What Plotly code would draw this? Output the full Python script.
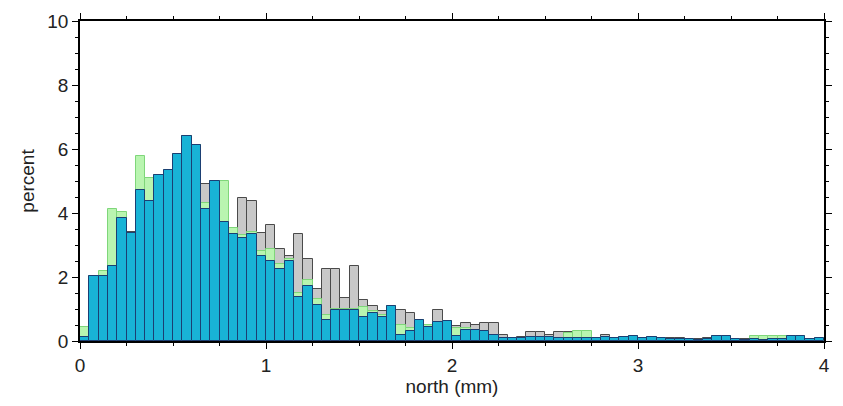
import numpy as np
import plotly.graph_objects as go

# Histogram bins: 80 bins of 0.05 mm spanning 0..4 mm
bin_width = 0.05
bin_centers = [round(bin_width * (i + 0.5), 3) for i in range(80)]

# Percent of samples per bin for three solutions
gray_pct = [
    0.30, 2.00, 2.10, 3.90, 3.90, 3.40, 4.80, 4.50, 5.20, 5.30,
    5.80, 6.40, 6.14, 4.90, 4.99, 4.40, 3.52, 4.47, 4.38, 3.36,
    3.64, 2.87, 2.65, 3.33, 2.56, 1.64, 2.25, 2.25, 1.33, 2.35,
    1.27, 1.08, 0.93, 1.08, 0.96, 0.86, 0.65, 0.43, 0.96, 0.62,
    0.46, 0.55, 0.50, 0.55, 0.55, 0.18, 0.10, 0.12, 0.27, 0.27,
    0.20, 0.27, 0.27, 0.27, 0.10, 0.10, 0.20, 0.10, 0.10, 0.15,
    0.05, 0.12, 0.10, 0.10, 0.10, 0.05, 0.05, 0.08, 0.10, 0.10,
    0.05, 0.05, 0.05, 0.05, 0.05, 0.05, 0.10, 0.10, 0.05, 0.05,
]
green_pct = [
    0.43, 2.04, 2.20, 4.14, 4.04, 3.37, 5.77, 5.09, 5.20, 5.33,
    5.85, 6.40, 6.14, 4.30, 4.99, 4.99, 3.52, 3.30, 3.40, 2.80,
    2.87, 2.40, 2.55, 1.50, 1.90, 1.30, 0.80, 1.00, 1.00, 1.00,
    1.05, 0.95, 0.80, 1.08, 0.49, 0.40, 0.65, 0.50, 0.60, 0.62,
    0.40, 0.40, 0.35, 0.30, 0.20, 0.10, 0.10, 0.10, 0.12, 0.12,
    0.12, 0.10, 0.25, 0.30, 0.30, 0.10, 0.12, 0.08, 0.12, 0.15,
    0.08, 0.12, 0.10, 0.05, 0.05, 0.05, 0.03, 0.05, 0.15, 0.15,
    0.05, 0.03, 0.15, 0.15, 0.15, 0.15, 0.15, 0.15, 0.05, 0.10,
]
cyan_pct = [
    0.12, 2.04, 2.04, 2.35, 3.83, 3.37, 4.72, 4.38, 5.20, 5.33,
    5.85, 6.40, 6.14, 4.14, 4.99, 3.73, 3.33, 3.22, 3.33, 2.65,
    2.50, 2.25, 2.50, 1.36, 1.73, 1.11, 0.65, 0.96, 0.96, 0.96,
    0.75, 0.86, 0.74, 1.08, 0.19, 0.31, 0.65, 0.43, 0.60, 0.62,
    0.15, 0.34, 0.35, 0.30, 0.20, 0.10, 0.10, 0.10, 0.12, 0.12,
    0.12, 0.10, 0.10, 0.10, 0.08, 0.10, 0.12, 0.08, 0.12, 0.15,
    0.08, 0.12, 0.10, 0.05, 0.05, 0.05, 0.03, 0.05, 0.15, 0.15,
    0.05, 0.03, 0.05, 0.03, 0.05, 0.05, 0.15, 0.15, 0.05, 0.10,
]

x_tick_vals = [0, 1, 2, 3, 4]
y_tick_vals = [0, 2, 4, 6, 8, 10]

FONT = "Liberation Sans, Arial, Helvetica, sans-serif"

fig = go.Figure()
series = [
    (gray_pct, "#c8c8c8", "#4a4a4a"),
    (green_pct, "#b9f5b0", "#7fd67a"),
    (cyan_pct, "#18b3d6", "#1b3f73"),
]
for vals, fill, edge in series:
    fig.add_trace(go.Bar(
        x=bin_centers, y=vals, width=bin_width,
        marker=dict(color=fill, line=dict(color=edge, width=1)),
        showlegend=False, hoverinfo="skip",
    ))

axis_common = dict(
    showgrid=False, zeroline=False,
    showline=True, linecolor="black", linewidth=1.5,
    mirror="allticks", ticks="outside", tickcolor="black",
    tickwidth=1, ticklen=6,
    tickfont=dict(family=FONT, size=19, color="#222"),
)

fig.update_layout(
    width=843, height=406,
    margin=dict(l=80, r=11, t=17, b=65),
    paper_bgcolor="white", plot_bgcolor="white",
    barmode="overlay", bargap=0,
    xaxis=dict(
        range=[0, 4], tickvals=x_tick_vals,
        minor=dict(dtick=0.25, ticklen=3, tickcolor="black", ticks="outside"),
        title=dict(text="north (mm)", font=dict(family=FONT, size=19, color="#222"), standoff=3),
        **axis_common,
    ),
    yaxis=dict(
        range=[0, 10], tickvals=y_tick_vals,
        minor=dict(dtick=0.5, ticklen=3, tickcolor="black", ticks="outside"),
        title=dict(text="percent", font=dict(family=FONT, size=19, color="#222"), standoff=8),
        **axis_common,
    ),
)

fig.write_html("out.html")
